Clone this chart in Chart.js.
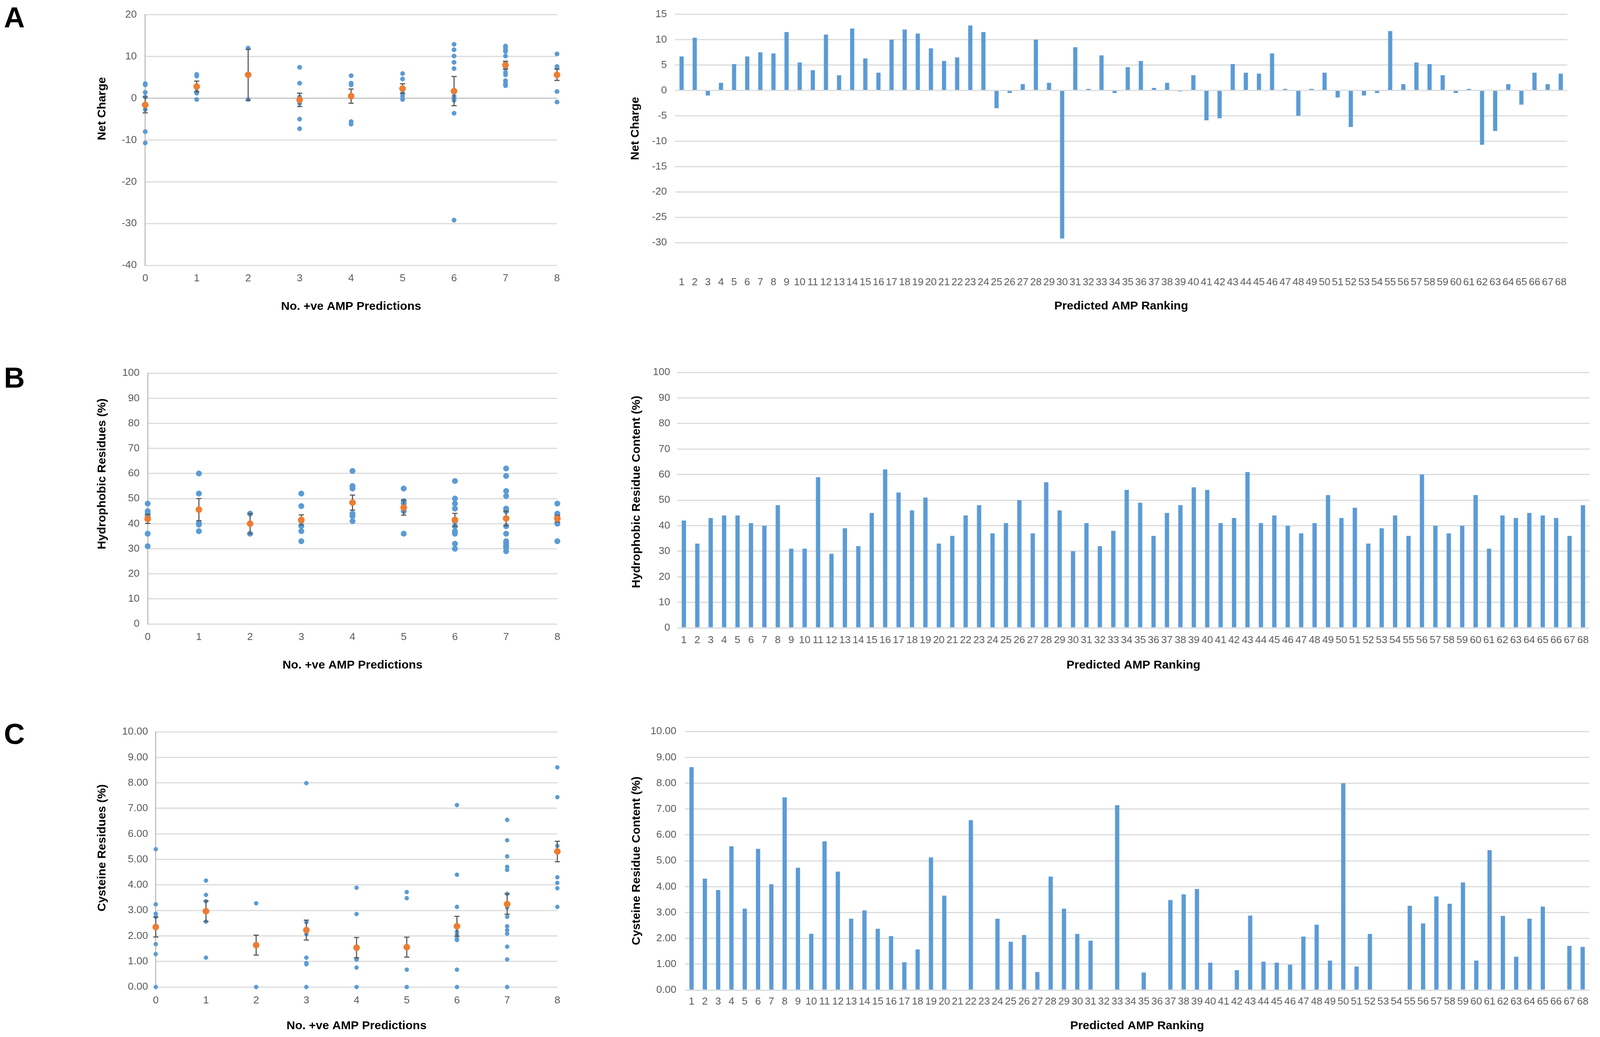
<!DOCTYPE html>
<html><head><meta charset="utf-8">
<script src="https://cdn.jsdelivr.net/npm/chart.js@4.4.1/dist/chart.umd.min.js"></script>
<style>
html,body{margin:0;padding:0;background:#fff;overflow:hidden;}
.box{position:absolute;}
.letter{position:absolute;font-family:"Liberation Sans",Arial,sans-serif;font-weight:bold;color:#000;}
</style></head><body>
<script>
// ---------- DATA ----------
const predCounts = [0, 1, 2, 3, 4, 5, 6, 7, 8];
const rankLabels = ["1","2","3","4","5","6","7","8","9","10","11","12","13","14","15","16","17","18","19","20",
  "21","22","23","24","25","26","27","28","29","30","31","32","33","34","35","36","37","38","39","40",
  "41","42","43","44","45","46","47","48","49","50","51","52","53","54","55","56","57","58","59","60",
  "61","62","63","64","65","66","67","68"];

// Net charge per predicted AMP (ranked)
const netCharge = [6.7,10.4,-1.0,1.5,5.2,6.7,7.5,7.3,11.5,5.5,
  4.0,11.0,3.0,12.2,6.3,3.5,10.0,12.0,11.2,8.3,
  5.8,6.5,12.8,11.5,-3.5,-0.5,1.25,10.0,1.5,-29.2,
  8.5,0.3,6.9,-0.5,4.6,5.8,0.5,1.5,-0.2,3.0,
  -5.9,-5.5,5.2,3.5,3.3,7.3,0.3,-5.0,0.3,3.5,
  -1.4,-7.2,-1.0,-0.5,11.7,1.25,5.5,5.2,3.0,-0.5,
  0.3,-10.7,-8.0,1.25,-2.8,3.5,1.25,3.3];
// Hydrophobic residue content (%)
const hydrophobic = [42,33,43,44,44,41,40,48,31,31,
  59,29,39,32,45,62,53,46,51,33,
  36,44,48,37,41,50,37,57,46,30,
  41,32,38,54,49,36,45,48,55,54,
  41,43,61,41,44,40,37,41,52,43,
  47,33,39,44,36,60,40,37,40,52,
  31,44,43,45,44,43,36,48];
// Cysteine residue content (%)
const cysteine = [8.62,4.31,3.87,5.56,3.15,5.46,4.09,7.45,4.73,2.18,
  5.75,4.58,2.76,3.08,2.37,2.09,1.08,1.57,5.13,3.65,
  0,6.57,0,2.76,1.87,2.13,0.70,4.39,3.15,2.17,
  1.91,0,7.15,0,0.68,0,3.48,3.70,3.91,1.06,
  0,0.77,2.88,1.10,1.06,0.98,2.07,2.53,1.14,8.00,
  0.91,2.17,0,0,3.26,2.58,3.62,3.34,4.16,1.14,
  5.41,2.87,1.29,2.76,3.23,0,1.71,1.67];

// Scatter panels: individual values grouped by number of +ve AMP predictions
const chargeByCount = [
  [3.5,3.2,1.4,0.3,-2.7,-8.0,-10.7],
  [5.7,5.3,1.6,1.2,-0.3],
  [12.0,-0.3],
  [7.4,3.6,0.3,-0.7,-1.2,-5.0,-7.3],
  [5.4,3.6,3.2,0.2,-5.6,-6.2],
  [5.9,4.6,1.2,0.5,-0.3],
  [12.9,11.6,10.1,8.6,7.1,0.5,0.0,-0.5,-3.6,-29.2],
  [12.5,12.1,11.6,11.2,10.1,8.4,7.2,6.2,5.6,4.2,3.6,3.2,3.0],
  [10.6,7.6,7.3,1.6,-0.9]
];
const chargeMean = [-1.6,2.8,5.6,-0.4,0.5,2.3,1.7,7.9,5.6];
const chargeSem  = [1.9,1.3,6.1,1.6,1.7,1.15,3.5,0.95,1.35];

const hydroByCount = [
  [48,45,44,43,36,31],
  [60,52,40.2,39.6,37],
  [44,36],
  [52,47,41,39,37,33],
  [61,55,54,44,43,41],
  [54,49,48,45,36],
  [57,50,48,46,41,39,37,36,32,30],
  [62,59,53,51,46,45,39,36,33,32,31,30.5,29],
  [48,44,43,40,33]
];
const hydroMean = [41.9,45.6,40.0,41.5,48.4,46.4,41.5,42.1,42.0];
const hydroSem  = [1.8,4.4,4.0,2.0,3.0,3.0,2.6,2.9,1.3];

const cysByCount = [
  [5.40,3.24,2.87,2.75,1.68,1.29,0],
  [4.17,3.61,3.36,2.56,1.15],
  [3.28,0],
  [7.99,2.54,2.07,1.15,0.94,0.89,0],
  [3.89,2.86,1.10,1.07,0.76,0],
  [3.72,3.48,0.68,0],
  [7.13,4.40,3.14,2.17,2.07,1.90,1.84,0.68,0],
  [6.55,5.75,5.12,4.71,4.59,3.65,3.11,2.75,2.38,2.23,2.09,1.58,1.08,0],
  [8.61,7.44,5.53,4.30,4.08,3.87,3.14]
];
const cysMean = [2.35,2.97,1.64,2.23,1.54,1.56,2.38,3.25,5.31];
const cysSem  = [0.39,0.40,0.39,0.39,0.40,0.39,0.39,0.40,0.40];

// ---------- LAYOUT (design units = reference pixels, mapped to the viewport) ----------
const VW = window.innerWidth || 4550, VH = window.innerHeight || 2654;
const SX = VW / 4550, SY = VH / 2654, SF = Math.sqrt(SX * SY);
const px = v => v * SX, py = v => v * SY, pf = v => v * SF;
document.documentElement.style.width = document.body.style.width = VW + 'px';
document.documentElement.style.height = document.body.style.height = VH + 'px';

function addLetter(txt, capTop) {
  const d = document.createElement('div');
  d.className = 'letter';
  d.textContent = txt;
  const fs = pf(78);
  d.style.fontSize = fs + 'px';
  d.style.lineHeight = fs + 'px';
  d.style.left = px(11) + 'px';
  d.style.top = (py(capTop) - 0.13 * fs) + 'px';
  document.body.appendChild(d);
}
function addBox(id, b) {
  const d = document.createElement('div');
  d.className = 'box';
  d.style.left = px(b.l) + 'px'; d.style.top = py(b.t) + 'px';
  d.style.width = px(b.w) + 'px'; d.style.height = py(b.h) + 'px';
  const c = document.createElement('canvas');
  c.id = id;
  d.appendChild(c);
  document.body.appendChild(d);
}
// box = canvas region; plot = chart area; xLabC = label centre below plot; xTitleC = title centre above box bottom;
// yTitleC = y-title centre right of box left; yGap = gap between y labels and plot; yShift = title shift up
const L = {
  A1: {box: {l: 150, t: 0, w: 1490, h: 830}, plot: {l: 413, r: 1584, t: 32, b: 679}, xLabC: 34, xTitleC: 45, yTitleC: 141, yGap: 24, yShift: 84},
  A2: {box: {l: 1760, t: 0, w: 2790, h: 830}, plot: {l: 1920, r: 4519, t: 34, b: 621}, xLabC: 102, xTitleC: 46, yTitleC: 47, yGap: 23, yShift: 0},
  B1: {box: {l: 150, t: 900, w: 1490, h: 860}, plot: {l: 420, r: 1585, t: 955, b: 1597}, xLabC: 34, xTitleC: 57, yTitleC: 141, yGap: 23, yShift: 68},
  B2: {box: {l: 1760, t: 900, w: 2790, h: 860}, plot: {l: 1926, r: 4520, t: 953, b: 1607}, xLabC: 32, xTitleC: 57, yTitleC: 51, yGap: 20, yShift: 22},
  C1: {box: {l: 150, t: 1820, w: 1490, h: 834}, plot: {l: 443, r: 1585, t: 1873, b: 2526}, xLabC: 35, xTitleC: 28, yTitleC: 141, yGap: 22, yShift: 32},
  C2: {box: {l: 1760, t: 1820, w: 2790, h: 834}, plot: {l: 1948, r: 4519, t: 1872, b: 2534}, xLabC: 30, xTitleC: 28, yTitleC: 51, yGap: 24, yShift: 0}
};
addLetter('A', 18); addLetter('B', 940); addLetter('C', 1852);
for (const k of Object.keys(L)) addBox('c' + k, L[k].box);

// ---------- STYLE ----------
const BLUE = '#5B9BD5', ORANGE = '#ED7D31', ERR = '#595959', GRID = '#D9D9D9', TICK = '#595959';
Chart.defaults.font.family = '"Liberation Sans", Arial, sans-serif';
Chart.defaults.animation = false;
const TICK_FS = 28, TITLE_FS = 32;

function commonScales(lay, yr, fmt, xTitle, yTitle, yGridColor, yBorder) {
  const b = lay.box, pl = lay.plot;
  const tickLH = pf(TICK_FS) * 1.2, titleLH = pf(TITLE_FS) * 1.2;
  // shift of y-title along the axis, done with leading spaces (text is centred by the library)
  const spaceW = 0.278 * TITLE_FS;
  const lead = lay.yShift > 0 ? ' '.repeat(Math.round(2 * lay.yShift / spaceW)) : '';
  return {
    layout: {padding: {top: py(pl.t - b.t), right: px(b.l + b.w - pl.r), left: 0, bottom: 0}},
    x: {
      ticks: {padding: Math.max(0, py(lay.xLabC) - tickLH / 2), color: TICK, font: {size: pf(TICK_FS)}},
      grid: {display: false, drawTicks: false}, border: {display: false},
      title: {display: true, text: xTitle, color: '#000', font: {size: pf(TITLE_FS), weight: 'bold'},
              padding: {top: 0, bottom: Math.max(0, py(lay.xTitleC) - titleLH / 2)}},
      afterFit(s) { s.height = py(b.t + b.h - pl.b); }
    },
    y: {
      min: yr[0], max: yr[1],
      ticks: {stepSize: yr[2], padding: px(lay.yGap), color: TICK, font: {size: pf(TICK_FS)}, callback: fmt},
      grid: {color: yGridColor, lineWidth: pf(3), drawTicks: false},
      border: yBorder,
      title: {display: true, text: lead + yTitle, color: '#000', font: {size: pf(TITLE_FS), weight: 'bold'},
              padding: {top: Math.max(0, px(lay.yTitleC) - titleLH / 2), bottom: 0}},
      afterFit(s) { s.width = px(pl.l - b.l); }
    }
  };
}

function scatterChart(key, groups, means, sems, yr, yTitle, fmt, ptR) {
  const pts = [];
  groups.forEach((vals, i) => vals.forEach(v => pts.push({x: predCounts[i], y: v})));
  const meanPts = means.map((m, i) => ({x: predCounts[i], y: m}));
  const err = [];
  means.forEach((m, i) => {
    err.push({x: predCounts[i], y: m - sems[i]}, {x: predCounts[i], y: m + sems[i]}, {x: predCounts[i], y: null});
  });
  const sc = commonScales(L[key], yr, fmt, 'No. +ve AMP Predictions', yTitle,
    c => (c.tick && c.tick.value === 0 && yr[0] < 0) ? '#BFBFBF' : GRID,
    {display: true, color: '#BFBFBF', width: pf(3)});
  sc.x.type = 'linear'; sc.x.min = 0; sc.x.max = 8; sc.x.ticks.stepSize = 1;
  new Chart(document.getElementById('c' + key), {
    type: 'scatter',
    data: {datasets: [
      {data: meanPts, backgroundColor: ORANGE, borderColor: ORANGE, pointRadius: pf(8.5), borderWidth: pf(1), order: 0, clip: false},
      {data: err, showLine: true, spanGaps: false, borderColor: ERR, borderWidth: pf(3),
       pointStyle: 'line', pointRadius: pf(7), pointBorderWidth: pf(3), pointBorderColor: ERR, order: 1, clip: false},
      {data: pts, backgroundColor: BLUE, borderColor: BLUE, pointRadius: pf(ptR), borderWidth: pf(1), order: 2, clip: false}
    ]},
    options: {
      responsive: true, maintainAspectRatio: false, events: [],
      layout: sc.layout,
      plugins: {legend: {display: false}, tooltip: {enabled: false}},
      scales: {x: sc.x, y: sc.y}
    }
  });
}

function barChart(key, values, yr, yTitle, fmt) {
  const sc = commonScales(L[key], yr, fmt, 'Predicted AMP Ranking', yTitle, GRID, {display: false});
  sc.x.ticks.autoSkip = false; sc.x.ticks.maxRotation = 0; sc.x.ticks.minRotation = 0;
  new Chart(document.getElementById('c' + key), {
    type: 'bar',
    data: {labels: rankLabels, datasets: [{data: values, backgroundColor: BLUE, barPercentage: 0.32, categoryPercentage: 1}]},
    options: {
      responsive: true, maintainAspectRatio: false, events: [],
      layout: sc.layout,
      plugins: {legend: {display: false}, tooltip: {enabled: false}},
      scales: {x: sc.x, y: sc.y}
    }
  });
}

const intFmt = v => String(v);
const dec2 = v => Number(v).toFixed(2);

scatterChart('A1', chargeByCount, chargeMean, chargeSem, [-40, 20, 10], 'Net Charge', intFmt, 6);
barChart('A2', netCharge, [-30, 15, 5], 'Net Charge', intFmt);
scatterChart('B1', hydroByCount, hydroMean, hydroSem, [0, 100, 10], 'Hydrophobic Residues (%)', intFmt, 7.5);
barChart('B2', hydrophobic, [0, 100, 10], 'Hydrophobic Residue Content (%)', intFmt);
scatterChart('C1', cysByCount, cysMean, cysSem, [0, 10, 1], 'Cysteine Residues (%)', dec2, 5.5);
barChart('C2', cysteine, [0, 10, 1], 'Cysteine Residue Content (%)', dec2);
</script>
</body></html>
